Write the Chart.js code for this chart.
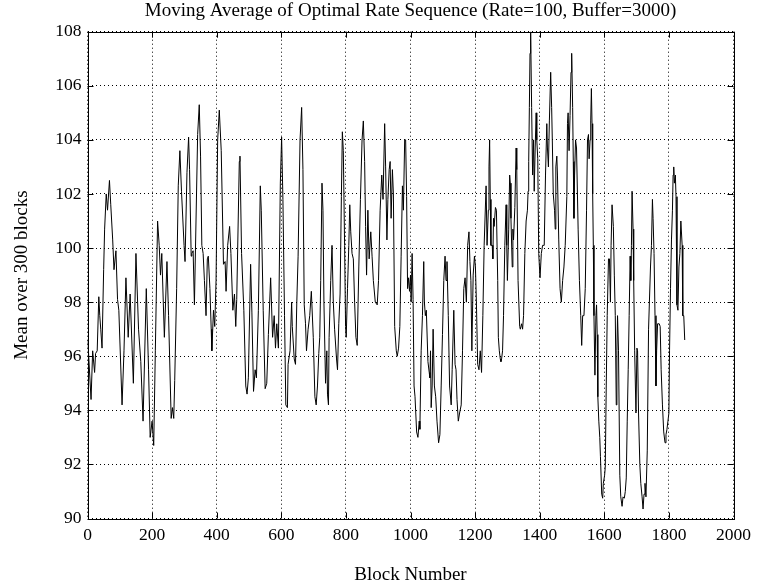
<!DOCTYPE html>
<html>
<head>
<meta charset="utf-8">
<title>Moving Average of Optimal Rate Sequence</title>
<script src="https://cdn.jsdelivr.net/npm/chart.js@4.4.1/dist/chart.umd.min.js"></script>
<style>
  html, body { margin: 0; padding: 0; background: #fff; }
  #wrap { width: 757px; height: 586px; }
</style>
</head>
<body>
<div id="wrap"><canvas id="chart" width="757" height="586"></canvas></div>
<script>
// block number at which each reading was taken
const blocks = [
  1, 11, 16, 22, 25, 30, 35, 38, 41, 45, 50, 53, 58, 62, 68, 72, 78, 82, 88, 93,
  97, 107, 113, 119, 126, 132, 142, 150, 158, 165, 172, 182, 189, 194, 200, 205, 210, 217, 222, 226,
  230, 238, 246, 251, 259, 263, 267, 270, 276, 281, 286, 291, 299,
  302, 308, 313, 316, 321, 323, 327, 331, 341, 346, 350, 354, 358, 362, 367, 371, 374, 379, 383, 385,
  390, 394, 398, 403, 408, 414, 421, 426, 429, 434, 440, 444, 450, 455, 459, 462, 470, 472, 477, 484,
  490, 494, 498, 505, 509, 514, 519, 523, 529, 535, 538, 544, 550, 555, 560, 567, 573, 578, 582, 586,
  591, 597, 601, 605, 610, 614,
  619, 621, 627, 632, 634, 640, 644, 648, 652, 658, 663, 667, 671, 675, 678, 683, 688, 693, 699, 704,
  708, 712, 716, 719, 722, 726, 729, 732, 737, 741, 743, 746, 748, 753, 757, 761, 765, 771, 774, 778,
  782, 786, 789, 792, 796, 799, 801, 805, 809, 812, 815, 819, 823, 827, 831, 835, 840, 845, 850, 854,
  858, 861, 864, 868, 872, 877, 881, 885, 891, 897, 901, 906, 911, 915,
  920, 923, 927, 930, 934, 937, 940, 944, 947, 951, 956, 959, 963, 967, 971, 975, 978, 982, 985, 988,
  991, 994, 997, 1000, 1002, 1005, 1008, 1011, 1014, 1019, 1023, 1027, 1029, 1033, 1037, 1041, 1043, 1046, 1049, 1054,
  1058, 1060, 1062, 1064, 1067, 1070, 1074, 1078, 1082, 1087, 1091, 1095, 1099, 1103, 1107, 1110, 1113, 1117, 1121, 1126,
  1129, 1134, 1138, 1141, 1144, 1148, 1152, 1157, 1161, 1165, 1169, 1173, 1177, 1181, 1184, 1187, 1190, 1194, 1198, 1201,
  1204, 1208, 1212, 1216, 1220, 1224,
  1228, 1234, 1237, 1241, 1243, 1245, 1247, 1249, 1253, 1255, 1257, 1259, 1263, 1266, 1270, 1272, 1275, 1278, 1280, 1282,
  1285, 1288, 1292, 1296, 1298, 1300, 1304, 1307, 1309, 1311, 1315, 1317, 1319, 1323, 1327, 1329, 1333, 1338, 1340, 1344,
  1347, 1350, 1354, 1358, 1362, 1364, 1366, 1368, 1370, 1372, 1375, 1378, 1381, 1383, 1386, 1389, 1391, 1394, 1397, 1401,
  1405, 1409, 1414, 1418, 1422, 1424, 1427, 1430, 1434, 1437, 1439, 1442, 1446, 1448, 1450, 1453, 1455, 1459, 1463, 1467,
  1471, 1475, 1479, 1484, 1486, 1488, 1491, 1494, 1497, 1499, 1502, 1504, 1506, 1508, 1511, 1514, 1519, 1523, 1527, 1530,
  1533,
  1537, 1541, 1545, 1548, 1551, 1553, 1556, 1558, 1560, 1562, 1564, 1566, 1568, 1571, 1574, 1576, 1578, 1580, 1583, 1586,
  1588, 1592, 1595, 1597, 1601, 1603, 1606, 1609, 1613, 1616, 1619, 1621, 1624, 1628, 1631, 1634, 1637, 1639, 1641, 1644,
  1648, 1651, 1655, 1658, 1662, 1665, 1668, 1671, 1674, 1677, 1680, 1682, 1684, 1686, 1689, 1691, 1694, 1698, 1701, 1703,
  1706, 1710, 1713, 1717, 1720, 1723, 1726, 1729, 1733, 1737, 1743, 1746, 1749, 1751, 1754, 1757, 1760, 1762, 1765, 1770,
  1773, 1776, 1780, 1784, 1788, 1791, 1794, 1797, 1800, 1802, 1805, 1808, 1811, 1813, 1815, 1817, 1820, 1822, 1825, 1828,
  1831, 1834, 1837, 1841, 1843, 1846, 1849
];

// mean over 300 blocks
const meanRate = [
  96.6, 94.4, 96.2, 95.4, 96.1, 96.2, 98.2, 97.5, 97.0, 96.3, 99.2, 100.7, 102.0, 101.4, 102.5, 101.6, 100.3, 99.2, 99.9, 98.1,
  97.7, 94.2, 96.2, 98.9, 96.7, 98.3, 95.0, 99.8, 97.0, 95.8, 93.6, 98.5, 95.5, 93.0, 93.6, 92.7, 96.2, 101.0, 100.1, 99.0,
  99.8, 96.7, 99.5, 97.5, 93.7, 94.1, 93.7, 95.1, 98.5, 102.3, 103.6, 102.1, 100.1,
  99.5, 102.8, 104.1, 102.9, 99.7, 99.8, 99.9, 97.9, 104.2, 105.3, 103.4, 100.1, 99.8, 98.8, 97.5, 99.6, 99.7, 98.5, 97.0, 96.2,
  97.7, 97.1, 98.8, 104.0, 105.1, 103.6, 99.4, 99.5, 98.4, 100.1, 100.8, 99.8, 97.7, 98.3, 97.1, 98.1, 103.2, 103.4, 99.8, 97.7,
  94.9, 94.6, 95.2, 99.4, 97.6, 94.7, 95.5, 95.2, 97.7, 102.3, 101.4, 97.7, 94.8, 95.0, 96.8, 98.9, 96.7, 97.5, 96.3, 97.2,
  96.3, 102.4, 104.1, 101.8, 97.5, 94.2,
  94.1, 95.7, 96.2, 98.0, 97.1, 95.9, 95.7, 98.0, 99.7, 104.0, 105.2, 102.9, 97.9, 97.2, 96.2, 97.0, 97.5, 98.4, 96.7, 94.5,
  94.2, 94.9, 96.1, 96.7, 98.8, 102.4, 101.4, 98.0, 95.0, 96.2, 94.6, 94.2, 96.7, 98.8, 100.1, 98.0, 97.0, 95.9, 95.5, 97.2,
  98.3, 101.9, 104.3, 103.6, 100.1, 97.1, 96.7, 98.5, 100.1, 101.6, 100.6, 99.8, 99.6, 98.0, 96.7, 96.4, 99.3, 101.8, 104.0, 104.7,
  103.2, 100.8, 99.0, 101.4, 99.6, 100.6, 99.7, 98.8, 98.0, 97.9, 98.8, 101.4, 102.7, 101.8,
  104.6, 103.0, 100.3, 101.8, 102.9, 103.2, 101.1, 102.9, 102.0, 97.1, 96.2, 96.0, 96.3, 97.1, 99.7, 102.3, 101.4, 104.0, 104.0, 101.9,
  98.5, 98.9, 98.4, 99.0, 98.0, 99.8, 98.1, 94.9, 94.5, 93.2, 93.0, 93.6, 93.3, 96.2, 97.5, 99.5, 98.0, 97.5, 97.7, 95.8,
  95.4, 95.2, 96.2, 94.1, 94.9, 97.0, 94.9, 94.5, 93.6, 92.8, 93.1, 94.9, 96.8, 98.8, 99.7, 98.8, 99.5, 97.5, 94.9, 94.2,
  95.5, 97.7, 95.7, 95.5, 94.4, 93.6, 93.9, 94.2, 96.2, 98.5, 98.9, 98.0, 100.1, 100.6, 99.5, 98.8, 96.2, 99.0, 99.7, 99.3,
  98.0, 95.7, 95.5, 96.2, 95.4, 97.5,
  100.1, 102.3, 100.1, 101.4, 103.0, 104.0, 101.8, 100.1, 100.1, 99.6, 101.1, 100.8, 101.5, 101.4, 98.8, 96.7, 96.2, 95.9, 95.8, 95.9,
  96.2, 97.5, 100.1, 101.6, 100.1, 98.8, 100.7, 102.7, 102.4, 101.1, 99.3, 100.7, 100.3, 101.5, 103.7, 102.9, 98.8, 97.1, 97.0, 97.2,
  97.0, 97.5, 99.8, 101.0, 101.4, 102.1, 103.2, 105.2, 107.2, 108.0, 105.2, 102.7, 104.0, 102.1, 103.7, 105.0, 104.0, 103.3, 99.8, 98.9,
  99.8, 100.1, 100.1, 102.7, 104.6, 103.7, 103.0, 104.7, 106.5, 105.2, 104.0, 102.0, 101.4, 100.7, 103.0, 103.4, 102.7, 100.3, 98.5, 98.0,
  98.8, 99.3, 100.1, 101.9, 104.6, 105.0, 103.6, 104.9, 106.5, 107.2, 105.2, 103.2, 101.1, 102.7, 104.0, 103.7, 100.7, 98.8, 97.5, 96.4,
  97.5,
  97.5, 98.5, 101.4, 104.0, 104.2, 103.3, 104.0, 104.7, 105.9, 104.6, 102.0, 100.1, 97.5, 95.3, 97.5, 97.9, 96.8, 94.5, 93.6, 93.0,
  92.3, 90.9, 90.75, 91.3, 91.6, 91.9, 94.9, 97.5, 99.6, 99.6, 98.0, 100.1, 101.6, 100.8, 99.0, 97.5, 94.2, 96.2, 97.5, 96.2,
  91.6, 90.8, 90.45, 90.8, 90.75, 91.0, 91.5, 93.6, 95.5, 97.5, 99.7, 98.8, 100.1, 102.1, 100.7, 98.8, 96.2, 93.9, 96.3, 96.2,
  93.9, 92.0, 91.3, 90.8, 90.35, 90.9, 91.3, 90.8, 92.5, 97.0, 99.3, 100.1, 101.8, 101.1, 99.8, 97.5, 94.9, 96.2, 97.2, 97.2,
  97.1, 95.5, 94.2, 93.2, 92.8, 93.1, 93.3, 93.6, 93.9, 96.2, 98.5, 100.3, 101.4, 102.7, 103.0, 102.4, 102.7, 101.9, 97.9, 97.7,
  99.3, 99.8, 101.0, 100.1, 97.5, 97.5, 96.6
];

const xTicks = [0, 200, 400, 600, 800, 1000, 1200, 1400, 1600, 1800, 2000];
const yTicks = [90, 92, 94, 96, 98, 100, 102, 104, 106, 108];
const chartTitle = 'Moving Average of Optimal Rate Sequence (Rate=100, Buffer=3000)';

const points = blocks.map((b, i) => ({ x: b, y: meanRate[i] }));

// matlab style box with inward tick marks, title centred over the axes
const frame = {
  id: 'frame',
  afterDraw(chart) {
    const { ctx, chartArea: a, scales: { x, y } } = chart;
    ctx.save();
    ctx.strokeStyle = '#000';
    ctx.lineWidth = 1;
    ctx.setLineDash([]);
    ctx.strokeRect(Math.round(a.left) + 0.5, Math.round(a.top) + 0.5,
      Math.round(a.right - a.left), Math.round(a.bottom - a.top));
    ctx.beginPath();
    xTicks.forEach(v => {
      const px = Math.round(x.getPixelForValue(v)) + 0.5;
      ctx.moveTo(px, a.bottom); ctx.lineTo(px, a.bottom - 6);
      ctx.moveTo(px, a.top); ctx.lineTo(px, a.top + 6);
    });
    yTicks.forEach(v => {
      const py = Math.round(y.getPixelForValue(v)) + 0.5;
      ctx.moveTo(a.left, py); ctx.lineTo(a.left + 6, py);
      ctx.moveTo(a.right, py); ctx.lineTo(a.right - 6, py);
    });
    ctx.stroke();

    ctx.fillStyle = '#000';
    ctx.font = "19px 'Liberation Serif', 'Times New Roman', serif";
    ctx.textAlign = 'center';
    ctx.textBaseline = 'middle';
    ctx.fillText(chartTitle, (a.left + a.right) / 2, 11);
    ctx.restore();
  }
};

Chart.defaults.font.family = "'Liberation Serif', 'Times New Roman', serif";
Chart.defaults.color = '#000';

new Chart(document.getElementById('chart'), {
  type: 'line',
  data: {
    datasets: [{
      data: points,
      borderColor: '#000',
      borderWidth: 1,
      pointRadius: 0,
      tension: 0,
      fill: false
    }]
  },
  options: {
    responsive: false,
    animation: false,
    layout: { padding: { left: 0, right: 22, top: 31.7, bottom: 0 } },
    plugins: {
      legend: { display: false },
      tooltip: { enabled: false },
      title: { display: false }
    },
    scales: {
      x: {
        type: 'linear',
        min: 0,
        max: 2000,
        afterBuildTicks: s => { s.ticks = xTicks.map(v => ({ value: v })); },
        afterFit: s => { s.height = 67.5; },
        ticks: {
          padding: 6,
          font: { size: 17.5 },
          color: '#000',
          maxRotation: 0,
          callback: v => String(v)
        },
        grid: { color: '#000', lineWidth: 1, drawTicks: false },
        border: { display: false, dash: [1, 3] },
        title: {
          display: true,
          text: 'Block Number',
          font: { size: 19, lineHeight: 1 },
          padding: { top: 0, bottom: 1.5 },
          color: '#000'
        }
      },
      y: {
        min: 90,
        max: 108,
        afterBuildTicks: s => { s.ticks = yTicks.map(v => ({ value: v })); },
        afterFit: s => { s.width = 87.5; },
        ticks: { padding: 6, font: { size: 17.5 }, color: '#000', callback: v => String(v) },
        grid: { color: '#000', lineWidth: 1, drawTicks: false },
        border: { display: false, dash: [1, 3] },
        title: {
          display: true,
          text: 'Mean over 300 blocks',
          font: { size: 19, lineHeight: 1 },
          padding: { top: 12.2, bottom: 0 },
          color: '#000'
        }
      }
    }
  },
  plugins: [frame]
});
</script>
</body>
</html>
